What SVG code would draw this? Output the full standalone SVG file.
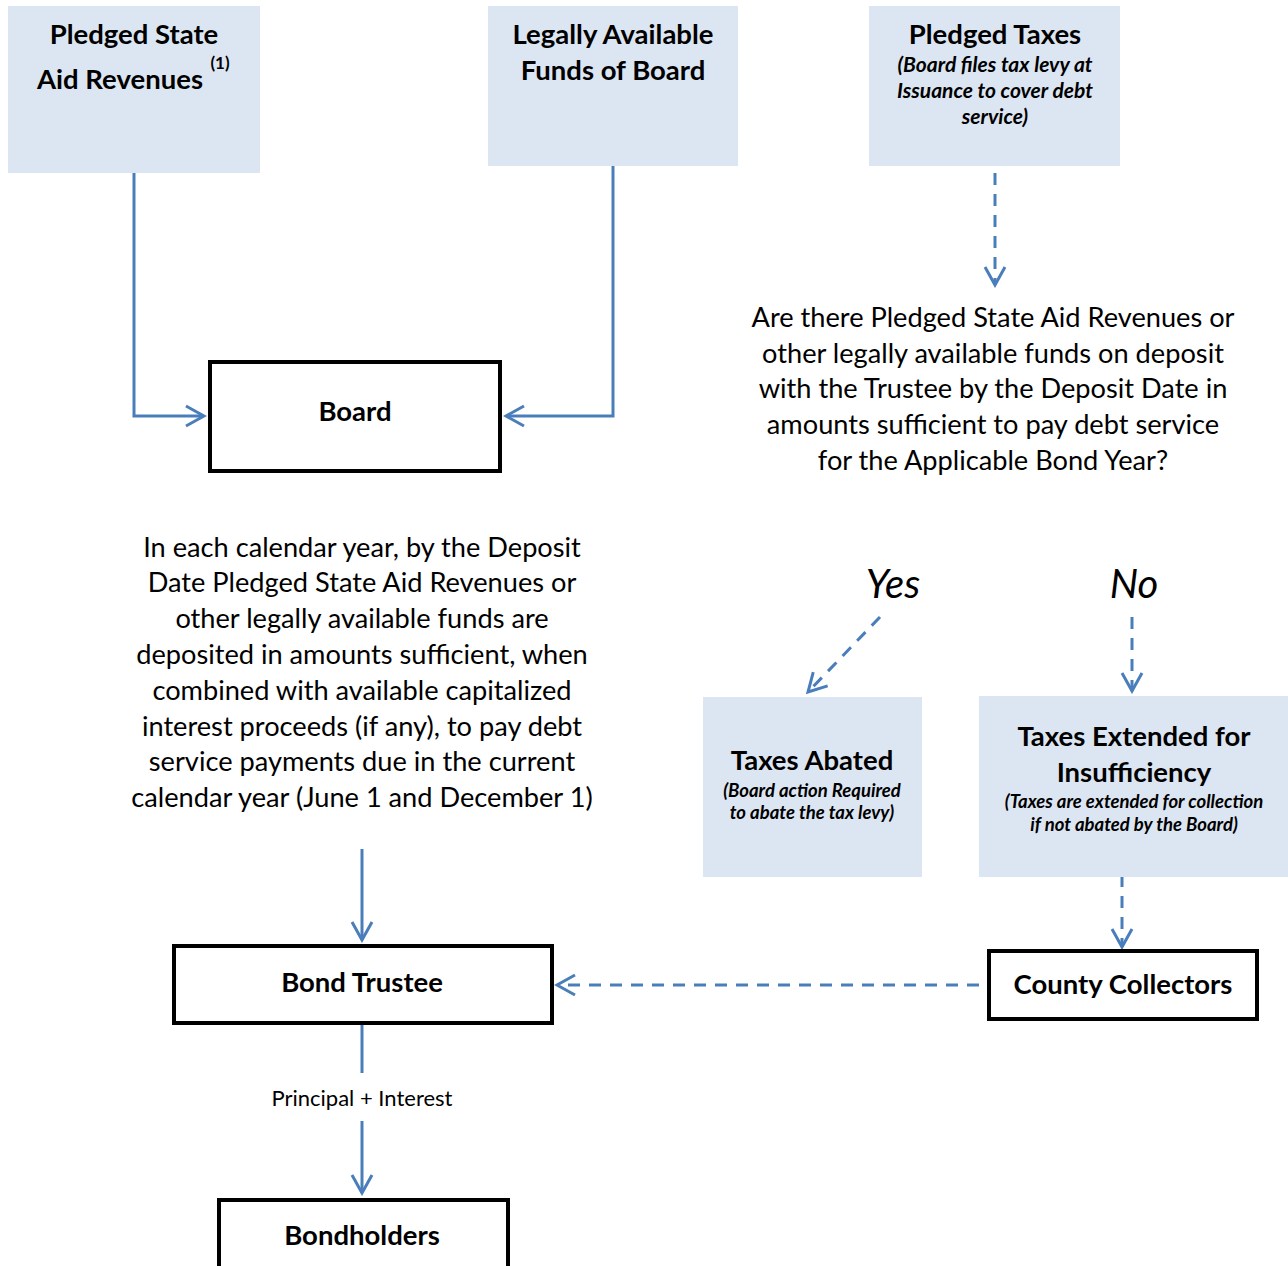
<svg xmlns="http://www.w3.org/2000/svg" width="1288" height="1266" viewBox="0 0 1288 1266">
<defs>
<marker id="arr" markerUnits="userSpaceOnUse" markerWidth="24" markerHeight="26" viewBox="0 0 24 26" refX="21" refY="13" orient="auto">
<path d="M3,3 L21,13 L3,23" fill="none" stroke="#4a7ebb" stroke-width="3"/>
</marker>
</defs>
<style>
.src{fill:#dce6f2}
.box{fill:#fff;stroke:#000;stroke-width:4}
text{font-family:Lato,"Open Sans",sans-serif;fill:#000;text-anchor:middle}
.b{font-weight:bold}
.h{font-size:27.5px;font-weight:bold}
.it{font-style:italic;font-weight:bold}
.p{font-size:27.2px}
.c{fill:none;stroke:#4a7ebb;stroke-width:3}
.d{stroke-dasharray:12 9}
</style>
<g id="connectors">
<polyline class="c" points="134,173 134,416 204,416" marker-end="url(#arr)"/>
<polyline class="c" points="613,166 613,416 506,416" marker-end="url(#arr)"/>
<line class="c d" x1="995" y1="173" x2="995" y2="285" marker-end="url(#arr)"/>
<line class="c d" x1="880" y1="617" x2="808" y2="692" marker-end="url(#arr)"/>
<line class="c d" x1="1132" y1="617" x2="1132" y2="691" marker-end="url(#arr)"/>
<line class="c d" x1="1122" y1="875" x2="1122" y2="947" marker-end="url(#arr)"/>
<line class="c d" x1="979" y1="985" x2="557" y2="985" marker-end="url(#arr)"/>
<line class="c" x1="362" y1="849" x2="362" y2="940" marker-end="url(#arr)"/>
<line class="c" x1="362" y1="1025" x2="362" y2="1073"/>
<line class="c" x1="362" y1="1121" x2="362" y2="1193" marker-end="url(#arr)"/>
<text x="362" y="1106" style="font-size:22px">Principal + Interest</text>
</g>
<g id="pledged-state-aid">
<rect class="src" x="8" y="6" width="252" height="167"/>
<text class="h" x="134" y="44">Pledged State</text>
<text class="h" x="120" y="89">Aid Revenues</text>
<text class="b" x="220" y="69" style="font-size:17px">(1)</text>
</g>
<g id="legally-available">
<rect class="src" x="488" y="6" width="250" height="160"/>
<text class="h" x="613" y="44">Legally Available</text>
<text class="h" x="613" y="80">Funds of Board</text>
</g>
<g id="pledged-taxes">
<rect class="src" x="869" y="6" width="251" height="160"/>
<text class="h" x="995" y="44">Pledged Taxes</text>
<text class="it" x="995" y="72" style="font-size:21px">(Board files tax levy at</text>
<text class="it" x="995" y="98" style="font-size:21px">Issuance to cover debt</text>
<text class="it" x="995" y="124" style="font-size:21px">service)</text>
</g>
<g id="board">
<rect class="box" x="210" y="362" width="290" height="109"/>
<text class="h" x="355" y="421">Board</text>
</g>
<g id="question">
<text class="p" x="993" y="327">Are there Pledged State Aid Revenues or</text>
<text class="p" x="993" y="363">other legally available funds on deposit</text>
<text class="p" x="993" y="398">with the Trustee by the Deposit Date in</text>
<text class="p" x="993" y="434">amounts sufficient to pay debt service</text>
<text class="p" x="993" y="470">for the Applicable Bond Year?</text>
</g>
<g id="deposit-text">
<text class="p" x="362" y="557">In each calendar year, by the Deposit</text>
<text class="p" x="362" y="592">Date Pledged State Aid Revenues or</text>
<text class="p" x="362" y="628">other legally available funds are</text>
<text class="p" x="362" y="664">deposited in amounts sufficient, when</text>
<text class="p" x="362" y="700">combined with available capitalized</text>
<text class="p" x="362" y="736">interest proceeds (if any), to pay debt</text>
<text class="p" x="362" y="771">service payments due in the current</text>
<text class="p" x="362" y="807">calendar year (June 1 and December 1)</text>
</g>
<g id="yes-label"><text x="893" y="598" style="font-size:40px;font-style:italic">Yes</text></g>
<g id="no-label"><text x="1134" y="598" style="font-size:40px;font-style:italic">No</text></g>
<g id="taxes-abated">
<rect class="src" x="703" y="697" width="219" height="180"/>
<text class="h" x="812" y="770">Taxes Abated</text>
<text class="it" x="812" y="797" style="font-size:18.5px">(Board action Required</text>
<text class="it" x="812" y="819" style="font-size:18.5px">to abate the tax levy)</text>
</g>
<g id="taxes-extended">
<rect class="src" x="979" y="696" width="309" height="181"/>
<text class="h" x="1134" y="746">Taxes Extended for</text>
<text class="h" x="1134" y="782">Insufficiency</text>
<text class="it" x="1134" y="808" style="font-size:18.5px">(Taxes are extended for collection</text>
<text class="it" x="1134" y="831" style="font-size:18.5px">if not abated by the Board)</text>
</g>
<g id="county-collectors">
<rect class="box" x="989" y="951" width="268" height="68"/>
<text class="h" x="1123" y="994">County Collectors</text>
</g>
<g id="bond-trustee">
<rect class="box" x="174" y="946" width="378" height="77"/>
<text class="h" x="362" y="992">Bond Trustee</text>
</g>
<g id="bondholders">
<rect class="box" x="219" y="1200" width="289" height="70"/>
<text class="h" x="362" y="1245">Bondholders</text>
</g>
</svg>
